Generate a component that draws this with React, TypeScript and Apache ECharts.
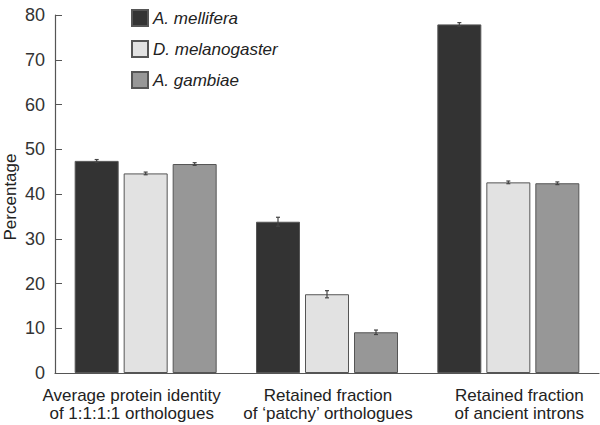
import React, { useEffect, useRef } from "react";
import * as echarts from "echarts";

const categories = [
  "Average protein identity\nof 1:1:1:1 orthologues",
  "Retained fraction\nof \u2018patchy\u2019 orthologues",
  "Retained fraction\nof ancient introns",
];
const seriesNames = ["A. mellifera", "D. melanogaster", "A. gambiae"];
const mellifera = [47.4, 33.8, 77.9];
const melanogaster = [44.6, 17.6, 42.6];
const gambiae = [46.7, 9.1, 42.4];
const melliferaErr = [0.3, 1.0, 0.4];
const melanogasterErr = [0.3, 0.8, 0.3];
const gambiaeErr = [0.3, 0.5, 0.3];
const yTicks = [0, 10, 20, 30, 40, 50, 60, 70, 80];

const colors = ["#333333", "#e2e2e2", "#979797"];
const BAR_W = 44;
const GAP = 5;
const FONT = "Liberation Sans, Arial, sans-serif";
const labelPads = [
  [0, 28, 0, 0],
  [0, 0, 0, 2],
  [0, 0, 0, 22],
];

export default function App() {
  const ref = useRef<HTMLDivElement>(null);
  useEffect(() => {
    if (!ref.current) return;
    const chart = echarts.init(ref.current, undefined, { renderer: "svg" });
    const values = [mellifera, melanogaster, gambiae];
    const errs = [melliferaErr, melanogasterErr, gambiaeErr];
    const barSeries = values.map((v, i) => ({
      name: seriesNames[i],
      type: "bar",
      data: v,
      barWidth: BAR_W,
      barGap: (GAP / BAR_W) * 100 + "%",
      itemStyle: { color: colors[i], borderColor: "#555", borderWidth: 1 },
    }));
    const errSeries = values.map((v, i) => ({
      type: "custom",
      name: "err" + i,
      data: v.map((val, j) => [j, val, errs[i][j]]),
      z: 10,
      renderItem: (params: any, api: any) => {
        const x = api.value(0);
        const val = api.value(1);
        const e = api.value(2);
        const hi = api.coord([x, val + e]);
        const lo = api.coord([x, val - e]);
        const off = (i - 1) * (BAR_W + GAP);
        const cx = hi[0] + off;
        const cap = 2;
        const style = { stroke: "#444", lineWidth: 1.2 };
        return {
          type: "group",
          children: [
            { type: "line", shape: { x1: cx, y1: hi[1], x2: cx, y2: lo[1] }, style },
            { type: "line", shape: { x1: cx - cap, y1: hi[1], x2: cx + cap, y2: hi[1] }, style },
            { type: "line", shape: { x1: cx - cap, y1: lo[1], x2: cx + cap, y2: lo[1] }, style },
          ],
        };
      },
    }));
    const rich: any = {};
    labelPads.forEach((p, i) => {
      rich["c" + i] = { padding: p, fontSize: 17, color: "#222", lineHeight: 18, fontFamily: FONT };
    });
    chart.setOption({
      animation: false,
      grid: { left: 55, right: 1, top: 15, bottom: 52, outerBoundsMode: "none", containLabel: false },
      legend: {
        data: seriesNames,
        orient: "vertical",
        left: 126,
        top: 4,
        itemWidth: 16,
        itemHeight: 16,
        itemGap: 13,
        icon: "rect",
        textStyle: { fontStyle: "italic", fontSize: 17, color: "#222", fontFamily: FONT },
      },
      xAxis: {
        type: "category",
        data: categories,
        axisLine: { lineStyle: { color: "#555", width: 1.2 } },
        axisTick: { inside: true, length: 6, lineStyle: { color: "#555" } },
        axisLabel: {
          interval: 0,
          fontSize: 17,
          color: "#222",
          lineHeight: 18,
          margin: 13,
          fontFamily: FONT,
          formatter: (v: string, idx: number) =>
            v
              .split("\n")
              .map((line) => `{c${idx}|${line}}`)
              .join("\n"),
          rich,
        },
      },
      yAxis: {
        type: "value",
        min: 0,
        max: 80,
        interval: 10,
        name: "Percentage",
        nameLocation: "middle",
        nameGap: 36,
        nameMoveOverlap: false,
        nameTextStyle: { fontSize: 17, color: "#222", fontFamily: FONT, padding: [0, 6, 0, 0] },
        splitLine: { show: false },
        axisLine: { show: true, lineStyle: { color: "#555", width: 1.2 } },
        axisTick: { show: true, inside: true, length: 7, lineStyle: { color: "#555" } },
        axisLabel: {
          fontSize: 18,
          color: "#333",
          margin: 10,
          fontFamily: FONT,
          formatter: (v: number) => (yTicks.includes(v) ? String(v) : ""),
        },
      },
      series: [...barSeries, ...errSeries],
    });
    return () => chart.dispose();
  }, []);
  return (
    <div
      ref={ref}
      style={{ position: "absolute", left: 0, top: 0, width: 600, height: 425 }}
    />
  );
}
